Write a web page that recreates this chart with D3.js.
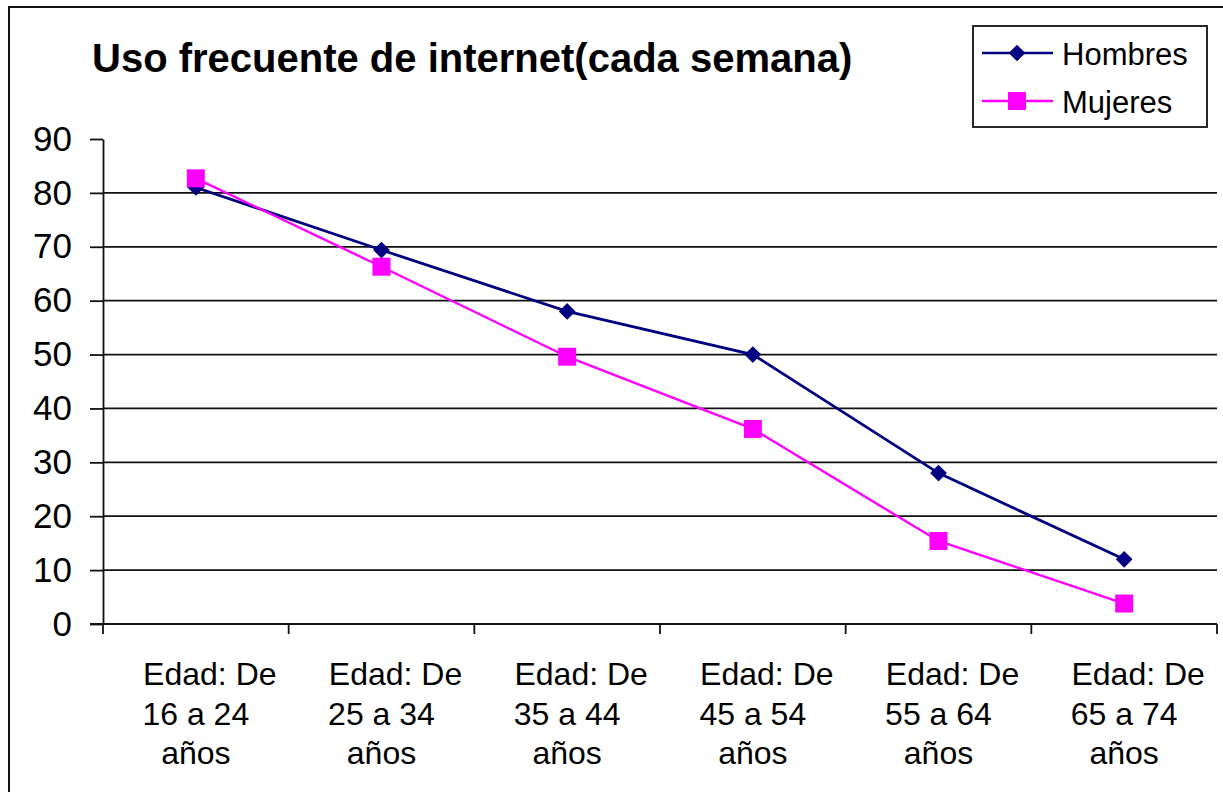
<!DOCTYPE html>
<html lang="es">
<head>
    <meta charset="UTF-8">
    <title>Uso frecuente de internet</title>
    <style>
        body {
            margin: 0;
            background-color: #FFFFFF;
            font-family: "Liberation Sans", Arial, sans-serif;
        }
        svg text {
            font-family: "Liberation Sans", Arial, sans-serif;
            fill: #000;
        }
    </style>
</head>
<body>
    <div id="chart"></div>

    <script src="https://d3js.org/d3.v7.min.js"></script>
    <script>
        // data
        const ageGroups = ["16 a 24", "25 a 34", "35 a 44", "45 a 54", "55 a 64", "65 a 74"];
        const hombres = [81, 69.4, 58, 50, 28, 12];
        const mujeres = [82.7, 66.3, 49.6, 36.2, 15.4, 3.8];
        const yTicks = [0, 10, 20, 30, 40, 50, 60, 70, 80, 90];
        const gridValues = [10, 20, 30, 40, 50, 60, 70, 80];
        const seriesNames = ["Hombres", "Mujeres"];

        const width = 1223;
        const height = 792;
        const plot = { left: 103, right: 1217, top: 139, bottom: 624 };

        const svg = d3.select("#chart").append("svg")
            .attr("width", width)
            .attr("height", height);

        // outer frame (only left and top edges show in the crop)
        svg.append("rect")
            .attr("x", 9).attr("y", 7)
            .attr("width", width + 20).attr("height", height + 20)
            .attr("fill", "#fff")
            .attr("stroke", "#111")
            .attr("stroke-width", 2);

        const x = d3.scaleBand()
            .domain(ageGroups)
            .range([plot.left, plot.right]);

        const y = d3.scaleLinear()
            .domain([0, 90])
            .range([plot.bottom, plot.top]);

        // title
        svg.append("text")
            .attr("x", 92)
            .attr("y", 72)
            .style("font-size", "40px")
            .style("font-weight", "bold")
            .text("Uso frecuente de internet(cada semana)");

        // gridlines
        svg.append("g")
            .selectAll("line")
            .data(gridValues)
            .join("line")
            .attr("x1", plot.left)
            .attr("x2", plot.right)
            .attr("y1", d => y(d))
            .attr("y2", d => y(d))
            .attr("stroke", "#111")
            .attr("stroke-width", 1.8);

        // y axis
        const yAxis = svg.append("g")
            .attr("transform", `translate(${plot.left},0)`)
            .call(d3.axisLeft(y).tickValues(yTicks).tickSize(13).tickPadding(18).tickSizeOuter(0));
        yAxis.select(".domain").attr("stroke", "#111").attr("stroke-width", 1.8);
        yAxis.selectAll(".tick line").attr("stroke", "#111").attr("stroke-width", 1.8);
        yAxis.selectAll(".tick text")
            .style("font-size", "35px")
            .attr("fill", "#000");

        // x axis: line plus ticks at category boundaries
        const bounds = ageGroups.map(d => x(d)).concat([plot.right]);
        svg.append("line")
            .attr("x1", 90).attr("x2", plot.right)
            .attr("y1", y(0)).attr("y2", y(0))
            .attr("stroke", "#111").attr("stroke-width", 1.8);
        svg.append("g")
            .selectAll("line")
            .data(bounds)
            .join("line")
            .attr("x1", d => d).attr("x2", d => d)
            .attr("y1", y(0)).attr("y2", y(0) + 10)
            .attr("stroke", "#111").attr("stroke-width", 1.8);

        // category labels
        const labels = svg.append("g")
            .selectAll("text")
            .data(ageGroups)
            .join("text")
            .attr("text-anchor", "middle")
            .style("font-size", "32px");
        labels.append("tspan")
            .attr("x", d => x(d) + x.bandwidth() / 2 + 14)
            .attr("y", 685)
            .text("Edad: De");
        labels.append("tspan")
            .attr("x", d => x(d) + x.bandwidth() / 2)
            .attr("y", 725)
            .text(d => d);
        labels.append("tspan")
            .attr("x", d => x(d) + x.bandwidth() / 2)
            .attr("y", 764)
            .text("años");

        const cx = i => x(ageGroups[i]) + x.bandwidth() / 2;
        const line = d3.line()
            .x((d, i) => cx(i))
            .y(d => y(d));

        const diamond = d3.symbol(d3.symbolSquare, 140);
        const square = d3.symbol(d3.symbolSquare, 324);

        // Hombres
        svg.append("path")
            .datum(hombres)
            .attr("d", line)
            .attr("fill", "none")
            .attr("stroke", "#000080")
            .attr("stroke-width", 2.8);
        svg.append("g")
            .selectAll("path")
            .data(hombres)
            .join("path")
            .attr("d", diamond)
            .attr("transform", (d, i) => `translate(${cx(i)},${y(d)}) rotate(45)`)
            .attr("fill", "#000080");

        // Mujeres
        svg.append("path")
            .datum(mujeres)
            .attr("d", line)
            .attr("fill", "none")
            .attr("stroke", "#FF00FF")
            .attr("stroke-width", 2.4);
        svg.append("g")
            .selectAll("path")
            .data(mujeres)
            .join("path")
            .attr("d", square)
            .attr("transform", (d, i) => `translate(${cx(i)},${y(d)})`)
            .attr("fill", "#FF00FF");

        // legend
        const legend = svg.append("g");
        legend.append("rect")
            .attr("x", 973).attr("y", 26)
            .attr("width", 234).attr("height", 101)
            .attr("fill", "#fff")
            .attr("stroke", "#111")
            .attr("stroke-width", 1.8);

        const legendRows = [
            { name: seriesNames[0], color: "#000080", sym: diamond, rot: 45, yy: 53 },
            { name: seriesNames[1], color: "#FF00FF", sym: square, rot: 0, yy: 101 }
        ];
        const row = legend.selectAll("g.row")
            .data(legendRows)
            .join("g")
            .attr("class", "row");
        row.append("line")
            .attr("x1", 982).attr("x2", 1053)
            .attr("y1", d => d.yy).attr("y2", d => d.yy)
            .attr("stroke", d => d.color)
            .attr("stroke-width", 2.6);
        row.append("path")
            .attr("d", d => d.sym())
            .attr("transform", d => `translate(1017,${d.yy}) rotate(${d.rot})`)
            .attr("fill", d => d.color);
        row.append("text")
            .attr("x", 1062)
            .attr("y", d => d.yy + 12)
            .style("font-size", "31px")
            .text(d => d.name);
    </script>
</body>
</html>
